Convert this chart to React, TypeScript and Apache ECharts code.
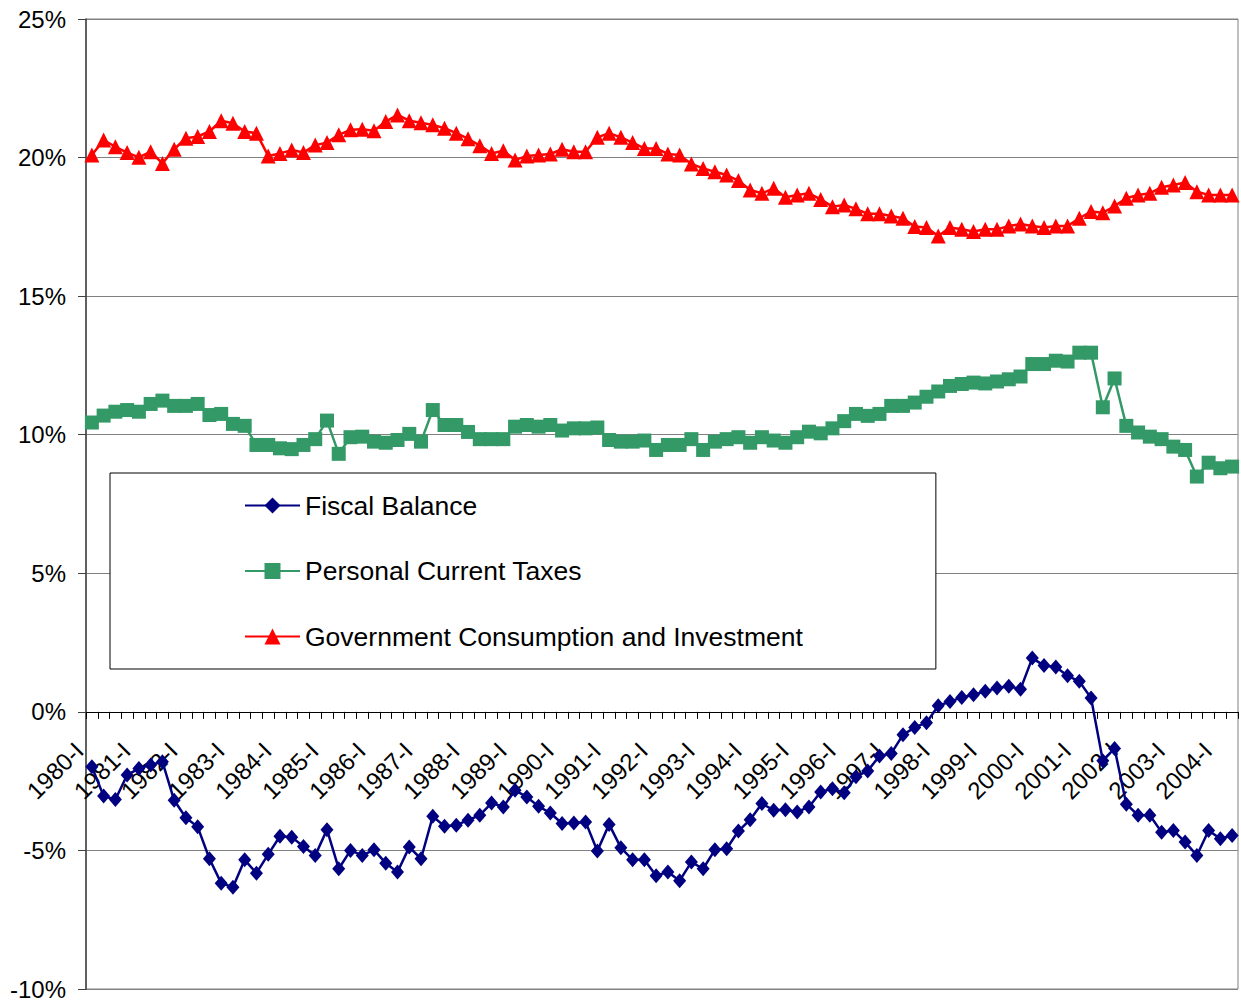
import React, { useEffect, useRef } from "react";
import * as echarts from "echarts";

const years = [1980,1981,1982,1983,1984,1985,1986,1987,1988,1989,1990,1991,1992,1993,1994,1995,1996,1997,1998,1999,2000,2001,2002,2003,2004];
const quarterNames = ["I", "II", "III", "IV"];
const categories: string[] = [];
years.forEach((y) => quarterNames.forEach((q) => categories.push(`${y}-${q}`)));
categories.length = 98; // 1980-I .. 2004-II

const fiscalBalance = [
  -1.98,-3.04,-3.16,-2.28,-2.04,-1.92,-1.80,-3.19,-3.82,-4.15,
  -5.30,-6.18,-6.33,-5.34,-5.82,-5.14,-4.49,-4.52,-4.86,-5.18,
  -4.25,-5.66,-5.00,-5.18,-4.98,-5.46,-5.78,-4.88,-5.30,-3.77,
  -4.13,-4.09,-3.91,-3.73,-3.29,-3.43,-2.83,-3.07,-3.41,-3.65,
  -4.03,-4.01,-3.97,-5.02,-4.06,-4.90,-5.34,-5.34,-5.91,-5.78,
  -6.09,-5.42,-5.66,-4.98,-4.94,-4.30,-3.89,-3.31,-3.55,-3.53,
  -3.61,-3.43,-2.89,-2.77,-2.92,-2.34,-2.13,-1.59,-1.50,-0.83,
  -0.56,-0.39,0.22,0.37,0.52,0.62,0.74,0.86,0.92,0.82,
  1.94,1.67,1.62,1.30,1.10,0.50,-1.76,-1.32,-3.33,-3.73,
  -3.73,-4.34,-4.28,-4.70,-5.18,-4.28,-4.58,-4.46
];

const personalTaxes = [
  10.44,10.69,10.83,10.89,10.83,11.11,11.23,11.04,11.04,11.11,
  10.71,10.75,10.39,10.32,9.63,9.63,9.51,9.48,9.63,9.84,
  10.51,9.31,9.91,9.93,9.75,9.71,9.81,10.03,9.75,10.89,
  10.35,10.35,10.10,9.84,9.84,9.84,10.29,10.35,10.29,10.35,
  10.15,10.23,10.23,10.26,9.81,9.75,9.75,9.79,9.45,9.63,
  9.63,9.84,9.45,9.75,9.84,9.91,9.71,9.91,9.79,9.71,
  9.91,10.11,10.05,10.23,10.49,10.75,10.68,10.75,11.04,11.04,
  11.16,11.37,11.56,11.76,11.83,11.88,11.85,11.92,12.00,12.10,
  12.55,12.55,12.67,12.64,12.96,12.96,10.99,12.03,10.32,10.08,
  9.93,9.84,9.57,9.45,8.49,8.99,8.79,8.85
];

const govConsumption = [
  20.09,20.63,20.39,20.18,20.01,20.21,19.79,20.30,20.70,20.76,
  20.94,21.33,21.24,20.94,20.88,20.06,20.15,20.27,20.18,20.45,
  20.54,20.82,21.00,21.02,20.97,21.30,21.54,21.33,21.26,21.18,
  21.06,20.88,20.68,20.43,20.15,20.25,19.91,20.06,20.09,20.13,
  20.30,20.21,20.21,20.73,20.88,20.73,20.54,20.33,20.33,20.13,
  20.09,19.77,19.61,19.49,19.37,19.17,18.83,18.71,18.89,18.57,
  18.65,18.71,18.49,18.23,18.29,18.15,17.97,17.97,17.89,17.81,
  17.51,17.48,17.17,17.48,17.41,17.33,17.41,17.41,17.53,17.60,
  17.53,17.48,17.53,17.53,17.81,18.05,18.01,18.25,18.53,18.65,
  18.71,18.93,19.01,19.10,18.77,18.65,18.65,18.65
];

const seriesNames = [
  "Fiscal Balance",
  "Personal Current Taxes",
  "Government Consumption and Investment",
];

const Y_MIN = -10;
const Y_MAX = 25;
const Y_STEP = 5;

const FONT = 'Arial, "Liberation Sans", sans-serif';

export default function App() {
  const ref = useRef<HTMLDivElement>(null);
  useEffect(() => {
    if (!ref.current) return;
    const chart = echarts.init(ref.current, undefined, { renderer: "svg" });
    const plotHeight = 970;
    // place the category axis where the value axis crosses zero
    const zeroOffset = -((0 - Y_MIN) / (Y_MAX - Y_MIN)) * plotHeight;
    chart.setOption({
      animation: false,
      backgroundColor: "#ffffff",
      textStyle: { fontFamily: FONT },
      grid: {
        left: 86,
        top: 19,
        width: 1152,
        height: plotHeight,
        show: true,
        borderColor: "#808080",
        borderWidth: 1,
        backgroundColor: "transparent",
        containLabel: false,
        outerBoundsMode: "none",
      },
      legend: {
        orient: "vertical",
        left: 110,
        top: 473,
        itemWidth: 55,
        itemHeight: 20,
        itemGap: 38.5,
        padding: [19, 133, 19, 134],
        backgroundColor: "#ffffff",
        borderColor: "#000000",
        borderWidth: 1,
        borderRadius: 0,
        textStyle: { fontSize: 26.5, color: "#000", fontFamily: FONT, lineHeight: 26 },
        data: seriesNames,
        z: 10,
      },
      xAxis: {
        type: "category",
        data: categories,
        boundaryGap: true,
        position: "bottom",
        offset: zeroOffset,
        axisLine: { onZero: false, lineStyle: { color: "#000000", width: 1 } },
        axisTick: { show: true, interval: 0, length: 7, lineStyle: { color: "#000000" } },
        axisLabel: {
          interval: 3,
          rotate: 45,
          fontSize: 24,
          color: "#000",
          fontFamily: FONT,
          margin: 22,
          padding: [0, 18, 0, 0],
        },
        splitLine: { show: false },
      },
      yAxis: {
        type: "value",
        min: Y_MIN,
        max: Y_MAX,
        interval: Y_STEP,
        axisLine: { show: true, lineStyle: { color: "#404040", width: 1.5 } },
        axisTick: { show: true, length: 8, lineStyle: { color: "#404040" } },
        axisLabel: {
          formatter: "{value}%",
          fontSize: 24,
          color: "#000",
          fontFamily: FONT,
          margin: 20,
        },
        splitLine: { show: true, lineStyle: { color: "#808080", width: 1 } },
      },
      series: [
        {
          name: seriesNames[0],
          type: "line",
          data: fiscalBalance,
          symbol: "diamond",
          symbolSize: [13, 15],
          showAllSymbol: true,
          color: "#000080",
          lineStyle: { color: "#000080", width: 2.5 },
          itemStyle: { color: "#000080" },
          z: 3,
        },
        {
          name: seriesNames[1],
          type: "line",
          data: personalTaxes,
          symbol: "rect",
          symbolSize: 14,
          showAllSymbol: true,
          color: "#339966",
          lineStyle: { color: "#339966", width: 2.5 },
          itemStyle: { color: "#339966" },
          z: 3,
        },
        {
          name: seriesNames[2],
          type: "line",
          data: govConsumption,
          symbol: "triangle",
          symbolSize: 15,
          showAllSymbol: true,
          color: "#FF0000",
          lineStyle: { color: "#FF0000", width: 2.5 },
          itemStyle: { color: "#FF0000" },
          z: 3,
        },
      ],
    });
    return () => chart.dispose();
  }, []);
  return (
    <div
      ref={ref}
      style={{ position: "absolute", left: 0, top: 0, width: 1241, height: 1003, background: "#fff" }}
    />
  );
}
